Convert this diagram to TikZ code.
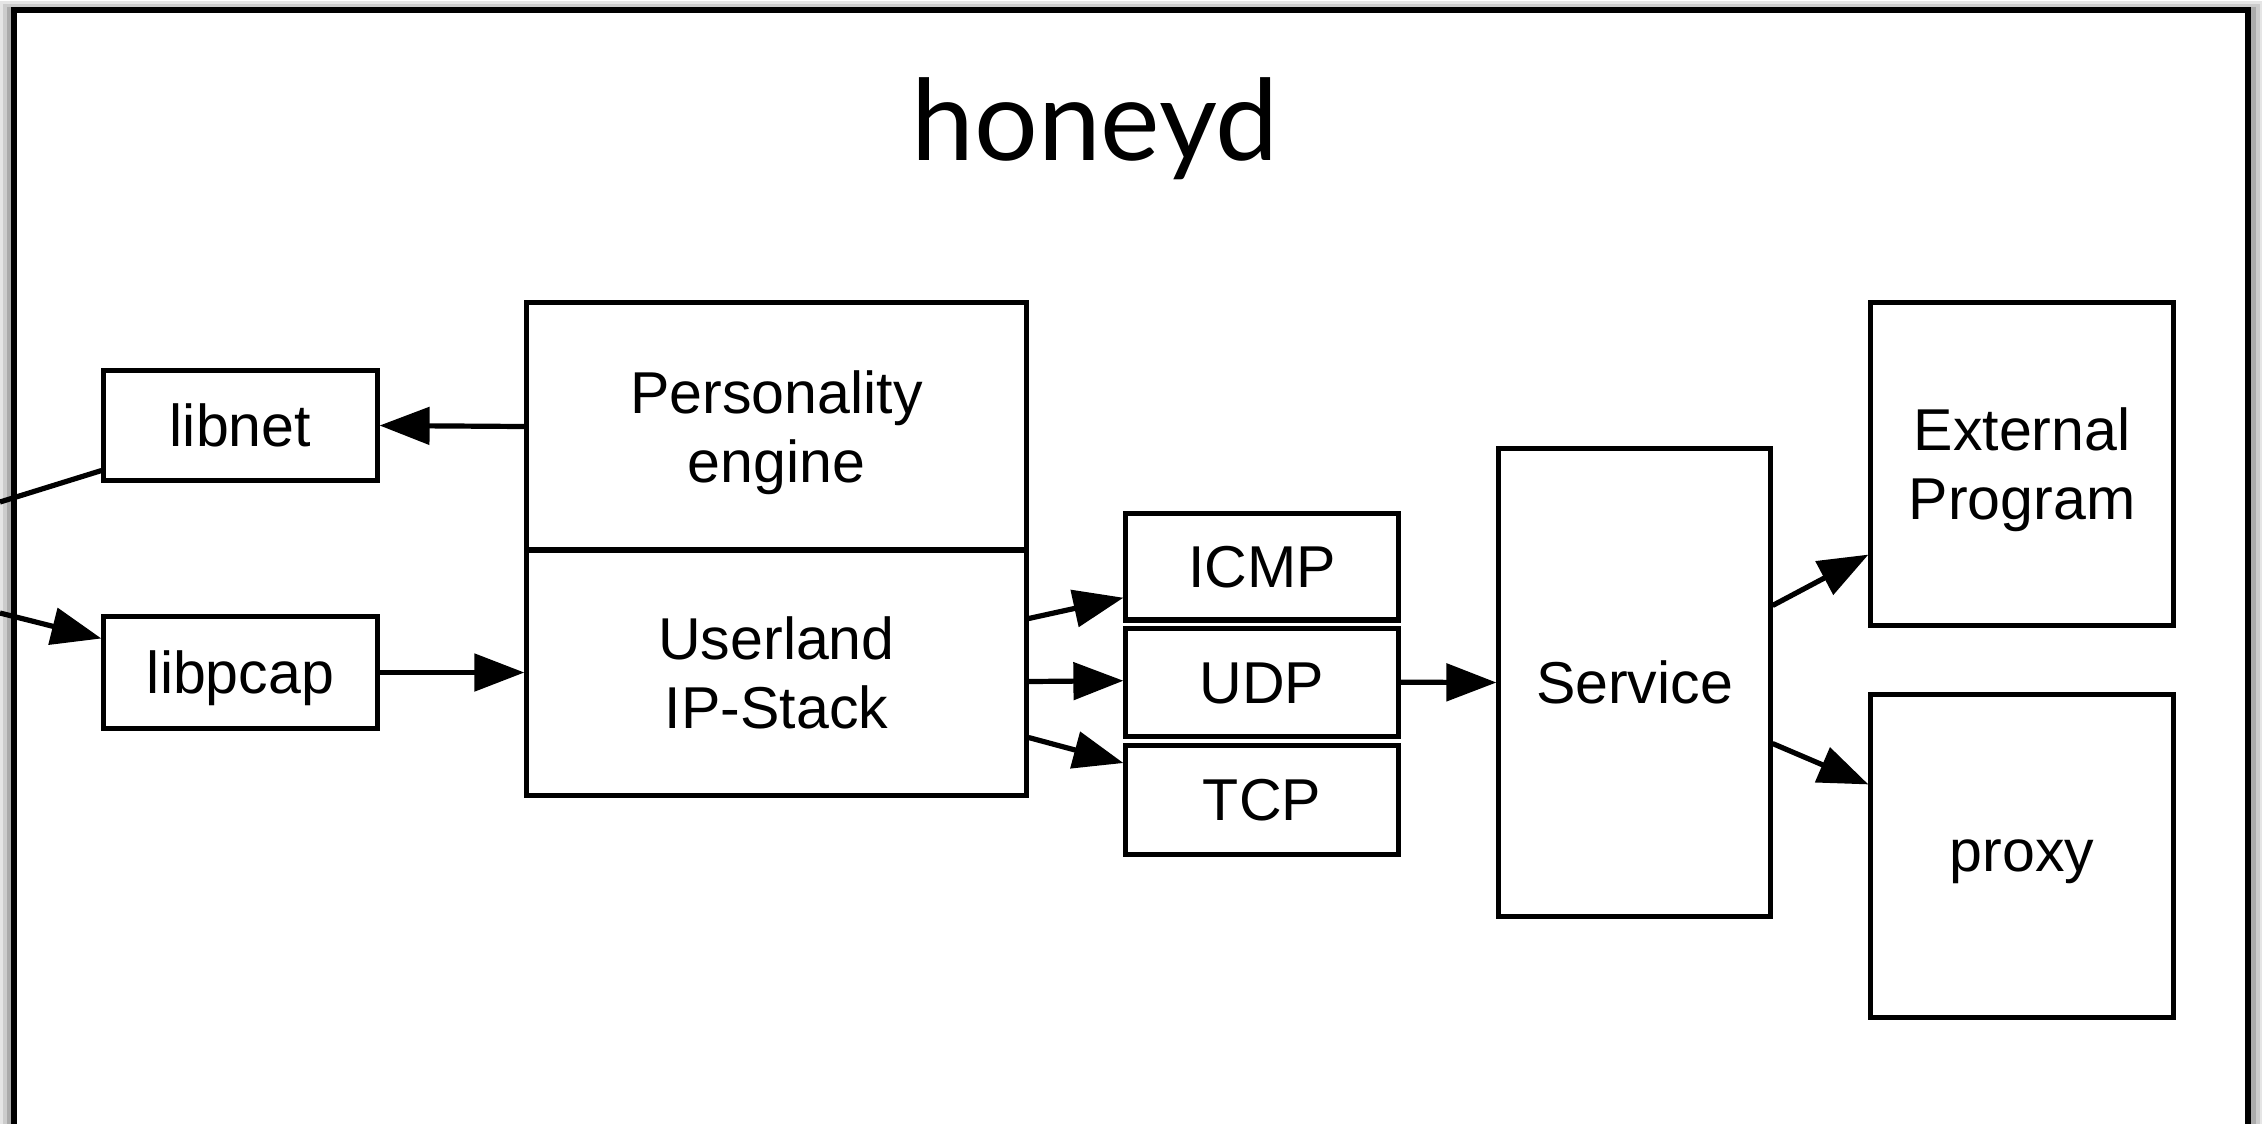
\documentclass[tikz,border=0pt]{standalone}
\usepackage{fontspec}
\setmainfont{Liberation Sans}
\newfontfamily\titlefont{Lato}
\usetikzlibrary{arrows.meta,calc}
\begin{document}
\begin{tikzpicture}[x=0.01cm,y=-0.01cm,
  box/.style={draw, line width=0.05cm, inner sep=0pt, align=center, text depth=0pt,
    font=\fontsize{16.8}{19.6}\selectfont},
  arr/.style={line width=0.052cm, -{Triangle[length=0.5cm,width=0.37cm]}},
  ln/.style={line width=0.052cm}]
\useasboundingbox (0,0) rectangle (2262,1123);
% shadow and frame
\fill[black!10] (0,1) rectangle (2262,1140);
\fill[black!20] (3,4) rectangle (2260,1140);
\fill[black!33] (7,7) rectangle (2256,1140);
\draw[fill=white, line width=0.06cm] (13.8,10.2) rectangle (2247.5,1150);
% title
\node[anchor=base, inner sep=0pt, font=\titlefont\fontsize{32}{38}\selectfont] (title) at (1095,160) {honeyd};
% boxes
\node[box, minimum width=2.73cm, minimum height=1.09cm] (libnet) at (240.5,425.5) {libnet};
\node[box, minimum width=2.73cm, minimum height=1.11cm] (libpcap) at (240.5,672.5) {libpcap};
\node[box, minimum width=4.99cm, minimum height=2.47cm] (pers) at (776.5,426.5) {Personality\\engine};
\node[box, minimum width=4.99cm, minimum height=2.45cm] (ip) at (776.5,672.5) {Userland\\IP-Stack};
\node[box, minimum width=2.72cm, minimum height=1.065cm] (icmp) at (1262,566.7) {ICMP};
\node[box, minimum width=2.72cm, minimum height=1.075cm] (udp) at (1262,682.7) {UDP};
\node[box, minimum width=2.72cm, minimum height=1.085cm] (tcp) at (1262,800) {TCP};
\node[box, minimum width=2.71cm, minimum height=4.67cm] (service) at (1634.5,682.5) {Service};
\node[box, minimum width=3.02cm, minimum height=3.22cm] (ext) at (2022,464) {External\\Program};
\node[box, minimum width=3.02cm, minimum height=3.22cm] (proxy) at (2022,856) {proxy};
% outside ends
\coordinate (outnet) at (0,502);
\coordinate (inpcap) at (0,613);
% connectors
\draw[ln] (outnet) -- ($(libnet.south west)+(0,-12)$);
\draw[arr] (inpcap) -- ($(libpcap.north west)+(0,24)$);
\draw[arr] (pers.west) -- (libnet.east);
\draw[arr] (libpcap.east) -- (ip.west);
\draw[arr] ($(ip.east)+(0,-54)$) -- ($(icmp.west)+(0,31)$);
\draw[arr] ($(ip.east)+(0,9)$) -- ($(udp.west)+(0,-2)$);
\draw[arr] ($(ip.east)+(0,65)$) -- ($(tcp.west)+(0,-37)$);
\draw[arr] ($(udp.east)+(0,-0.5)$) -- (service.west);
\draw[arr] ($(service.east)+(0,-77)$) -- ($(ext.south west)+(0,-73)$);
\draw[arr] ($(service.east)+(0,61)$) -- ($(proxy.north west)+(0,92)$);
\end{tikzpicture}
\end{document}
